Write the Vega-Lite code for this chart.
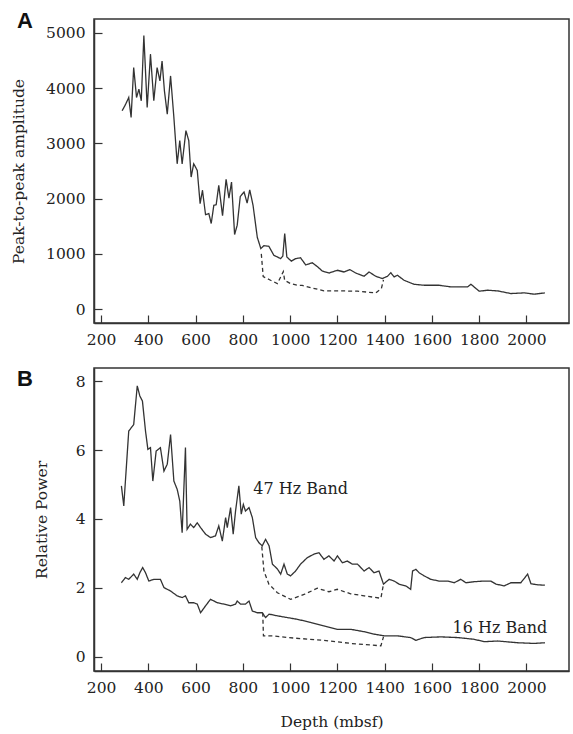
{
  "$schema": "https://vega.github.io/schema/vega-lite/v6.json",
  "padding": {"left": 10, "top": 9, "right": 0, "bottom": 5},
  "autosize": {"type": "pad"},
  "background": "white",
  "bounds": "flush",
  "spacing": 45,
  "config": {
    "font": "DejaVu Serif",
    "view": {"stroke": "#333", "strokeWidth": 1.5},
    "axis": {
      "grid": false,
      "domainColor": "#333",
      "domainWidth": 1.5,
      "tickColor": "#333",
      "tickWidth": 1.2,
      "tickSize": -8,
      "labelPadding": 17,
      "labelFont": "DejaVu Serif",
      "labelFontSize": 15.5,
      "labelColor": "#222",
      "titleFont": "DejaVu Serif",
      "titleFontSize": 15.5,
      "titleFontWeight": "normal",
      "titleColor": "#222",
      "format": "d"
    }
  },
  "datasets": {
    "amp": [
      {"depth": 289, "value": 3590, "series": "total", "style": "solid"},
      {"depth": 303, "value": 3700, "series": "total", "style": "solid"},
      {"depth": 317, "value": 3830, "series": "total", "style": "solid"},
      {"depth": 327, "value": 3470, "series": "total", "style": "solid"},
      {"depth": 338, "value": 4370, "series": "total", "style": "solid"},
      {"depth": 350, "value": 3830, "series": "total", "style": "solid"},
      {"depth": 360, "value": 3980, "series": "total", "style": "solid"},
      {"depth": 370, "value": 3770, "series": "total", "style": "solid"},
      {"depth": 381, "value": 4950, "series": "total", "style": "solid"},
      {"depth": 395, "value": 3650, "series": "total", "style": "solid"},
      {"depth": 409, "value": 4610, "series": "total", "style": "solid"},
      {"depth": 423, "value": 3770, "series": "total", "style": "solid"},
      {"depth": 437, "value": 4370, "series": "total", "style": "solid"},
      {"depth": 449, "value": 4130, "series": "total", "style": "solid"},
      {"depth": 458, "value": 4490, "series": "total", "style": "solid"},
      {"depth": 468, "value": 3950, "series": "total", "style": "solid"},
      {"depth": 480, "value": 3530, "series": "total", "style": "solid"},
      {"depth": 494, "value": 4220, "series": "total", "style": "solid"},
      {"depth": 508, "value": 3470, "series": "total", "style": "solid"},
      {"depth": 522, "value": 2630, "series": "total", "style": "solid"},
      {"depth": 533, "value": 3050, "series": "total", "style": "solid"},
      {"depth": 543, "value": 2630, "series": "total", "style": "solid"},
      {"depth": 559, "value": 3230, "series": "total", "style": "solid"},
      {"depth": 571, "value": 3050, "series": "total", "style": "solid"},
      {"depth": 581, "value": 2390, "series": "total", "style": "solid"},
      {"depth": 592, "value": 2630, "series": "total", "style": "solid"},
      {"depth": 607, "value": 2510, "series": "total", "style": "solid"},
      {"depth": 619, "value": 1910, "series": "total", "style": "solid"},
      {"depth": 629, "value": 2150, "series": "total", "style": "solid"},
      {"depth": 642, "value": 1710, "series": "total", "style": "solid"},
      {"depth": 656, "value": 1730, "series": "total", "style": "solid"},
      {"depth": 666, "value": 1550, "series": "total", "style": "solid"},
      {"depth": 677, "value": 1880, "series": "total", "style": "solid"},
      {"depth": 687, "value": 1890, "series": "total", "style": "solid"},
      {"depth": 698, "value": 2240, "series": "total", "style": "solid"},
      {"depth": 714, "value": 1690, "series": "total", "style": "solid"},
      {"depth": 729, "value": 2350, "series": "total", "style": "solid"},
      {"depth": 741, "value": 2010, "series": "total", "style": "solid"},
      {"depth": 752, "value": 2300, "series": "total", "style": "solid"},
      {"depth": 765, "value": 1350, "series": "total", "style": "solid"},
      {"depth": 776, "value": 1520, "series": "total", "style": "solid"},
      {"depth": 789, "value": 2040, "series": "total", "style": "solid"},
      {"depth": 805, "value": 2120, "series": "total", "style": "solid"},
      {"depth": 818, "value": 1920, "series": "total", "style": "solid"},
      {"depth": 829, "value": 2160, "series": "total", "style": "solid"},
      {"depth": 843, "value": 1880, "series": "total", "style": "solid"},
      {"depth": 861, "value": 1300, "series": "total", "style": "solid"},
      {"depth": 876, "value": 1096, "series": "total", "style": "solid"},
      {"depth": 889, "value": 1150, "series": "total", "style": "solid"},
      {"depth": 910, "value": 1137, "series": "total", "style": "solid"},
      {"depth": 931, "value": 975, "series": "total", "style": "solid"},
      {"depth": 960, "value": 915, "series": "total", "style": "solid"},
      {"depth": 969, "value": 960, "series": "total", "style": "solid"},
      {"depth": 977, "value": 1370, "series": "total", "style": "solid"},
      {"depth": 986, "value": 944, "series": "total", "style": "solid"},
      {"depth": 1005, "value": 870, "series": "total", "style": "solid"},
      {"depth": 1023, "value": 915, "series": "total", "style": "solid"},
      {"depth": 1044, "value": 930, "series": "total", "style": "solid"},
      {"depth": 1066, "value": 800, "series": "total", "style": "solid"},
      {"depth": 1094, "value": 840, "series": "total", "style": "solid"},
      {"depth": 1118, "value": 760, "series": "total", "style": "solid"},
      {"depth": 1136, "value": 690, "series": "total", "style": "solid"},
      {"depth": 1165, "value": 655, "series": "total", "style": "solid"},
      {"depth": 1200, "value": 704, "series": "total", "style": "solid"},
      {"depth": 1228, "value": 673, "series": "total", "style": "solid"},
      {"depth": 1253, "value": 716, "series": "total", "style": "solid"},
      {"depth": 1277, "value": 655, "series": "total", "style": "solid"},
      {"depth": 1313, "value": 596, "series": "total", "style": "solid"},
      {"depth": 1334, "value": 673, "series": "total", "style": "solid"},
      {"depth": 1362, "value": 596, "series": "total", "style": "solid"},
      {"depth": 1390, "value": 554, "series": "total", "style": "solid"},
      {"depth": 1412, "value": 596, "series": "total", "style": "solid"},
      {"depth": 1426, "value": 660, "series": "total", "style": "solid"},
      {"depth": 1440, "value": 583, "series": "total", "style": "solid"},
      {"depth": 1454, "value": 614, "series": "total", "style": "solid"},
      {"depth": 1482, "value": 523, "series": "total", "style": "solid"},
      {"depth": 1524, "value": 451, "series": "total", "style": "solid"},
      {"depth": 1567, "value": 433, "series": "total", "style": "solid"},
      {"depth": 1630, "value": 433, "series": "total", "style": "solid"},
      {"depth": 1680, "value": 403, "series": "total", "style": "solid"},
      {"depth": 1751, "value": 403, "series": "total", "style": "solid"},
      {"depth": 1765, "value": 451, "series": "total", "style": "solid"},
      {"depth": 1800, "value": 325, "series": "total", "style": "solid"},
      {"depth": 1835, "value": 343, "series": "total", "style": "solid"},
      {"depth": 1878, "value": 331, "series": "total", "style": "solid"},
      {"depth": 1934, "value": 283, "series": "total", "style": "solid"},
      {"depth": 1991, "value": 295, "series": "total", "style": "solid"},
      {"depth": 2033, "value": 271, "series": "total", "style": "solid"},
      {"depth": 2078, "value": 295, "series": "total", "style": "solid"},
      {"depth": 878, "value": 1000, "series": "corrected", "style": "dashed"},
      {"depth": 886, "value": 590, "series": "corrected", "style": "dashed"},
      {"depth": 917, "value": 523, "series": "corrected", "style": "dashed"},
      {"depth": 946, "value": 463, "series": "corrected", "style": "dashed"},
      {"depth": 971, "value": 680, "series": "corrected", "style": "dashed"},
      {"depth": 977, "value": 520, "series": "corrected", "style": "dashed"},
      {"depth": 1002, "value": 463, "series": "corrected", "style": "dashed"},
      {"depth": 1030, "value": 433, "series": "corrected", "style": "dashed"},
      {"depth": 1051, "value": 430, "series": "corrected", "style": "dashed"},
      {"depth": 1087, "value": 391, "series": "corrected", "style": "dashed"},
      {"depth": 1143, "value": 331, "series": "corrected", "style": "dashed"},
      {"depth": 1214, "value": 331, "series": "corrected", "style": "dashed"},
      {"depth": 1285, "value": 325, "series": "corrected", "style": "dashed"},
      {"depth": 1362, "value": 295, "series": "corrected", "style": "dashed"},
      {"depth": 1386, "value": 373, "series": "corrected", "style": "dashed"},
      {"depth": 1395, "value": 530, "series": "corrected", "style": "dashed"}
    ],
    "power": [
      {"depth": 286, "value": 4.96, "series": "47", "style": "solid"},
      {"depth": 296, "value": 4.38, "series": "47", "style": "solid"},
      {"depth": 317, "value": 6.55, "series": "47", "style": "solid"},
      {"depth": 338, "value": 6.74, "series": "47", "style": "solid"},
      {"depth": 353, "value": 7.86, "series": "47", "style": "solid"},
      {"depth": 364, "value": 7.57, "series": "47", "style": "solid"},
      {"depth": 375, "value": 7.42, "series": "47", "style": "solid"},
      {"depth": 388, "value": 6.55, "series": "47", "style": "solid"},
      {"depth": 398, "value": 6.02, "series": "47", "style": "solid"},
      {"depth": 409, "value": 6.07, "series": "47", "style": "solid"},
      {"depth": 419, "value": 5.1, "series": "47", "style": "solid"},
      {"depth": 433, "value": 5.97, "series": "47", "style": "solid"},
      {"depth": 451, "value": 6.07, "series": "47", "style": "solid"},
      {"depth": 466, "value": 5.39, "series": "47", "style": "solid"},
      {"depth": 480, "value": 5.59, "series": "47", "style": "solid"},
      {"depth": 494, "value": 6.45, "series": "47", "style": "solid"},
      {"depth": 508, "value": 5.1, "series": "47", "style": "solid"},
      {"depth": 522, "value": 4.86, "series": "47", "style": "solid"},
      {"depth": 533, "value": 4.52, "series": "47", "style": "solid"},
      {"depth": 543, "value": 3.6, "series": "47", "style": "solid"},
      {"depth": 557, "value": 6.07, "series": "47", "style": "solid"},
      {"depth": 564, "value": 3.7, "series": "47", "style": "solid"},
      {"depth": 578, "value": 3.85, "series": "47", "style": "solid"},
      {"depth": 592, "value": 3.75, "series": "47", "style": "solid"},
      {"depth": 607, "value": 3.89, "series": "47", "style": "solid"},
      {"depth": 621, "value": 3.75, "series": "47", "style": "solid"},
      {"depth": 642, "value": 3.56, "series": "47", "style": "solid"},
      {"depth": 663, "value": 3.46, "series": "47", "style": "solid"},
      {"depth": 684, "value": 3.51, "series": "47", "style": "solid"},
      {"depth": 698, "value": 3.8, "series": "47", "style": "solid"},
      {"depth": 713, "value": 3.36, "series": "47", "style": "solid"},
      {"depth": 727, "value": 4.04, "series": "47", "style": "solid"},
      {"depth": 734, "value": 3.75, "series": "47", "style": "solid"},
      {"depth": 748, "value": 4.33, "series": "47", "style": "solid"},
      {"depth": 759, "value": 3.56, "series": "47", "style": "solid"},
      {"depth": 769, "value": 4.23, "series": "47", "style": "solid"},
      {"depth": 783, "value": 4.96, "series": "47", "style": "solid"},
      {"depth": 793, "value": 4.14, "series": "47", "style": "solid"},
      {"depth": 802, "value": 4.42, "series": "47", "style": "solid"},
      {"depth": 811, "value": 4.23, "series": "47", "style": "solid"},
      {"depth": 826, "value": 4.33, "series": "47", "style": "solid"},
      {"depth": 840, "value": 4.04, "series": "47", "style": "solid"},
      {"depth": 854, "value": 3.46, "series": "47", "style": "solid"},
      {"depth": 868, "value": 3.31, "series": "47", "style": "solid"},
      {"depth": 882, "value": 3.22, "series": "47", "style": "solid"},
      {"depth": 896, "value": 3.41, "series": "47", "style": "solid"},
      {"depth": 911, "value": 3.22, "series": "47", "style": "solid"},
      {"depth": 925, "value": 2.69, "series": "47", "style": "solid"},
      {"depth": 946, "value": 2.55, "series": "47", "style": "solid"},
      {"depth": 960, "value": 2.4, "series": "47", "style": "solid"},
      {"depth": 974, "value": 2.69, "series": "47", "style": "solid"},
      {"depth": 988, "value": 2.4, "series": "47", "style": "solid"},
      {"depth": 1002, "value": 2.35, "series": "47", "style": "solid"},
      {"depth": 1023, "value": 2.49, "series": "47", "style": "solid"},
      {"depth": 1044, "value": 2.69, "series": "47", "style": "solid"},
      {"depth": 1073, "value": 2.88, "series": "47", "style": "solid"},
      {"depth": 1101, "value": 2.98, "series": "47", "style": "solid"},
      {"depth": 1122, "value": 3.02, "series": "47", "style": "solid"},
      {"depth": 1143, "value": 2.83, "series": "47", "style": "solid"},
      {"depth": 1164, "value": 2.93, "series": "47", "style": "solid"},
      {"depth": 1186, "value": 2.78, "series": "47", "style": "solid"},
      {"depth": 1200, "value": 2.93, "series": "47", "style": "solid"},
      {"depth": 1221, "value": 2.73, "series": "47", "style": "solid"},
      {"depth": 1242, "value": 2.78, "series": "47", "style": "solid"},
      {"depth": 1263, "value": 2.69, "series": "47", "style": "solid"},
      {"depth": 1285, "value": 2.69, "series": "47", "style": "solid"},
      {"depth": 1313, "value": 2.49, "series": "47", "style": "solid"},
      {"depth": 1334, "value": 2.59, "series": "47", "style": "solid"},
      {"depth": 1355, "value": 2.44, "series": "47", "style": "solid"},
      {"depth": 1376, "value": 2.49, "series": "47", "style": "solid"},
      {"depth": 1395, "value": 2.11, "series": "47", "style": "solid"},
      {"depth": 1419, "value": 2.25, "series": "47", "style": "solid"},
      {"depth": 1440, "value": 2.2, "series": "47", "style": "solid"},
      {"depth": 1461, "value": 2.11, "series": "47", "style": "solid"},
      {"depth": 1489, "value": 2.06, "series": "47", "style": "solid"},
      {"depth": 1510, "value": 1.96, "series": "47", "style": "solid"},
      {"depth": 1518, "value": 2.49, "series": "47", "style": "solid"},
      {"depth": 1532, "value": 2.54, "series": "47", "style": "solid"},
      {"depth": 1546, "value": 2.44, "series": "47", "style": "solid"},
      {"depth": 1567, "value": 2.35, "series": "47", "style": "solid"},
      {"depth": 1595, "value": 2.25, "series": "47", "style": "solid"},
      {"depth": 1630, "value": 2.2, "series": "47", "style": "solid"},
      {"depth": 1666, "value": 2.2, "series": "47", "style": "solid"},
      {"depth": 1694, "value": 2.15, "series": "47", "style": "solid"},
      {"depth": 1722, "value": 2.25, "series": "47", "style": "solid"},
      {"depth": 1744, "value": 2.15, "series": "47", "style": "solid"},
      {"depth": 1779, "value": 2.18, "series": "47", "style": "solid"},
      {"depth": 1821, "value": 2.2, "series": "47", "style": "solid"},
      {"depth": 1849, "value": 2.2, "series": "47", "style": "solid"},
      {"depth": 1871, "value": 2.11, "series": "47", "style": "solid"},
      {"depth": 1906, "value": 2.06, "series": "47", "style": "solid"},
      {"depth": 1934, "value": 2.15, "series": "47", "style": "solid"},
      {"depth": 1976, "value": 2.15, "series": "47", "style": "solid"},
      {"depth": 2005, "value": 2.4, "series": "47", "style": "solid"},
      {"depth": 2019, "value": 2.12, "series": "47", "style": "solid"},
      {"depth": 2048, "value": 2.09, "series": "47", "style": "solid"},
      {"depth": 2078, "value": 2.08, "series": "47", "style": "solid"},
      {"depth": 880, "value": 3.2, "series": "47c", "style": "dashed"},
      {"depth": 889, "value": 2.49, "series": "47c", "style": "dashed"},
      {"depth": 910, "value": 2.11, "series": "47c", "style": "dashed"},
      {"depth": 946, "value": 1.86, "series": "47c", "style": "dashed"},
      {"depth": 1002, "value": 1.67, "series": "47c", "style": "dashed"},
      {"depth": 1059, "value": 1.81, "series": "47c", "style": "dashed"},
      {"depth": 1115, "value": 1.99, "series": "47c", "style": "dashed"},
      {"depth": 1164, "value": 1.89, "series": "47c", "style": "dashed"},
      {"depth": 1200, "value": 1.96, "series": "47c", "style": "dashed"},
      {"depth": 1256, "value": 1.83, "series": "47c", "style": "dashed"},
      {"depth": 1313, "value": 1.77, "series": "47c", "style": "dashed"},
      {"depth": 1384, "value": 1.7, "series": "47c", "style": "dashed"},
      {"depth": 1395, "value": 2.11, "series": "47c", "style": "dashed"},
      {"depth": 286, "value": 2.15, "series": "16", "style": "solid"},
      {"depth": 303, "value": 2.3, "series": "16", "style": "solid"},
      {"depth": 317, "value": 2.25, "series": "16", "style": "solid"},
      {"depth": 338, "value": 2.4, "series": "16", "style": "solid"},
      {"depth": 353, "value": 2.25, "series": "16", "style": "solid"},
      {"depth": 364, "value": 2.44, "series": "16", "style": "solid"},
      {"depth": 376, "value": 2.59, "series": "16", "style": "solid"},
      {"depth": 388, "value": 2.44, "series": "16", "style": "solid"},
      {"depth": 402, "value": 2.2, "series": "16", "style": "solid"},
      {"depth": 423, "value": 2.25, "series": "16", "style": "solid"},
      {"depth": 451, "value": 2.25, "series": "16", "style": "solid"},
      {"depth": 466, "value": 2.01, "series": "16", "style": "solid"},
      {"depth": 494, "value": 1.91, "series": "16", "style": "solid"},
      {"depth": 522, "value": 1.77, "series": "16", "style": "solid"},
      {"depth": 543, "value": 1.72, "series": "16", "style": "solid"},
      {"depth": 557, "value": 1.77, "series": "16", "style": "solid"},
      {"depth": 571, "value": 1.57, "series": "16", "style": "solid"},
      {"depth": 592, "value": 1.57, "series": "16", "style": "solid"},
      {"depth": 607, "value": 1.53, "series": "16", "style": "solid"},
      {"depth": 621, "value": 1.28, "series": "16", "style": "solid"},
      {"depth": 642, "value": 1.48, "series": "16", "style": "solid"},
      {"depth": 663, "value": 1.67, "series": "16", "style": "solid"},
      {"depth": 692, "value": 1.57, "series": "16", "style": "solid"},
      {"depth": 720, "value": 1.53, "series": "16", "style": "solid"},
      {"depth": 748, "value": 1.48, "series": "16", "style": "solid"},
      {"depth": 769, "value": 1.53, "series": "16", "style": "solid"},
      {"depth": 776, "value": 1.62, "series": "16", "style": "solid"},
      {"depth": 790, "value": 1.53, "series": "16", "style": "solid"},
      {"depth": 811, "value": 1.53, "series": "16", "style": "solid"},
      {"depth": 826, "value": 1.62, "series": "16", "style": "solid"},
      {"depth": 840, "value": 1.33, "series": "16", "style": "solid"},
      {"depth": 861, "value": 1.28, "series": "16", "style": "solid"},
      {"depth": 882, "value": 1.28, "series": "16", "style": "solid"},
      {"depth": 896, "value": 1.14, "series": "16", "style": "solid"},
      {"depth": 911, "value": 1.24, "series": "16", "style": "solid"},
      {"depth": 946, "value": 1.19, "series": "16", "style": "solid"},
      {"depth": 988, "value": 1.14, "series": "16", "style": "solid"},
      {"depth": 1030, "value": 1.09, "series": "16", "style": "solid"},
      {"depth": 1087, "value": 1.0, "series": "16", "style": "solid"},
      {"depth": 1143, "value": 0.9, "series": "16", "style": "solid"},
      {"depth": 1200, "value": 0.8, "series": "16", "style": "solid"},
      {"depth": 1256, "value": 0.8, "series": "16", "style": "solid"},
      {"depth": 1313, "value": 0.73, "series": "16", "style": "solid"},
      {"depth": 1355, "value": 0.66, "series": "16", "style": "solid"},
      {"depth": 1398, "value": 0.61, "series": "16", "style": "solid"},
      {"depth": 1454, "value": 0.61, "series": "16", "style": "solid"},
      {"depth": 1510, "value": 0.56, "series": "16", "style": "solid"},
      {"depth": 1532, "value": 0.48, "series": "16", "style": "solid"},
      {"depth": 1567, "value": 0.56, "series": "16", "style": "solid"},
      {"depth": 1638, "value": 0.58, "series": "16", "style": "solid"},
      {"depth": 1708, "value": 0.56, "series": "16", "style": "solid"},
      {"depth": 1779, "value": 0.51, "series": "16", "style": "solid"},
      {"depth": 1821, "value": 0.44, "series": "16", "style": "solid"},
      {"depth": 1878, "value": 0.46, "series": "16", "style": "solid"},
      {"depth": 1963, "value": 0.41, "series": "16", "style": "solid"},
      {"depth": 2033, "value": 0.39, "series": "16", "style": "solid"},
      {"depth": 2078, "value": 0.41, "series": "16", "style": "solid"},
      {"depth": 884, "value": 1.28, "series": "16c", "style": "dashed"},
      {"depth": 887, "value": 0.61, "series": "16c", "style": "dashed"},
      {"depth": 931, "value": 0.61, "series": "16c", "style": "dashed"},
      {"depth": 988, "value": 0.56, "series": "16c", "style": "dashed"},
      {"depth": 1143, "value": 0.48, "series": "16c", "style": "dashed"},
      {"depth": 1256, "value": 0.39, "series": "16c", "style": "dashed"},
      {"depth": 1384, "value": 0.32, "series": "16c", "style": "dashed"},
      {"depth": 1395, "value": 0.58, "series": "16c", "style": "dashed"}
    ],
    "labels": [
      {"depth": 844, "value": 4.87, "label": "47 Hz Band"},
      {"depth": 1687, "value": 0.84, "label": "16 Hz Band"}
    ]
  },
  "vconcat": [
    {
      "width": 475,
      "height": 304,
      "title": {"text": "A", "orient": "none", "anchor": "start", "frame": "group", "font": "Liberation Sans", "fontSize": 22, "fontWeight": "bold", "color": "#111", "baseline": "alphabetic", "dx": -77, "dy": 9},
      "data": {"name": "amp"},
      "mark": {"type": "line", "color": "#333", "strokeWidth": 1.3},
      "encoding": {
        "x": {"field": "depth", "type": "quantitative", "scale": {"domain": [170, 2180], "nice": false, "zero": false},
              "axis": {"values": [200, 400, 600, 800, 1000, 1200, 1400, 1600, 1800, 2000], "title": null}},
        "y": {"field": "value", "type": "quantitative", "scale": {"domain": [-250, 5250], "nice": false, "zero": false},
              "axis": {"values": [0, 1000, 2000, 3000, 4000, 5000], "title": "Peak-to-peak amplitude", "titlePadding": 19}},
        "detail": {"field": "series"},
        "strokeDash": {"field": "style", "type": "nominal", "scale": {"domain": ["solid", "dashed"], "range": [[1, 0], [4, 3]]}, "legend": null}
      }
    },
    {
      "width": 475,
      "height": 303,
      "title": {"text": "B", "orient": "none", "anchor": "start", "frame": "group", "font": "Liberation Sans", "fontSize": 22, "fontWeight": "bold", "color": "#111", "baseline": "alphabetic", "dx": -77, "dy": 18},
      "layer": [
        {
          "data": {"name": "power"},
          "mark": {"type": "line", "color": "#333", "strokeWidth": 1.3},
          "encoding": {
            "x": {"field": "depth", "type": "quantitative", "scale": {"domain": [170, 2180], "nice": false, "zero": false},
                  "axis": {"values": [200, 400, 600, 800, 1000, 1200, 1400, 1600, 1800, 2000], "title": "Depth (mbsf)", "titlePadding": 19}},
            "y": {"field": "value", "type": "quantitative", "scale": {"domain": [-0.41, 8.38], "nice": false, "zero": false},
                  "axis": {"values": [0, 1, 2, 3, 4, 5, 6, 7, 8], "labelExpr": "datum.value % 2 === 0 ? datum.label : ''", "title": "Relative Power", "titlePadding": 26}},
            "detail": {"field": "series"},
            "strokeDash": {"field": "style", "type": "nominal", "scale": {"domain": ["solid", "dashed"], "range": [[1, 0], [4, 3]]}, "legend": null}
          }
        },
        {
          "data": {"name": "labels"},
          "mark": {"type": "text", "align": "left", "baseline": "middle", "fontSize": 16, "color": "#222"},
          "encoding": {
            "x": {"field": "depth", "type": "quantitative"},
            "y": {"field": "value", "type": "quantitative"},
            "text": {"field": "label"}
          }
        }
      ]
    }
  ]
}
